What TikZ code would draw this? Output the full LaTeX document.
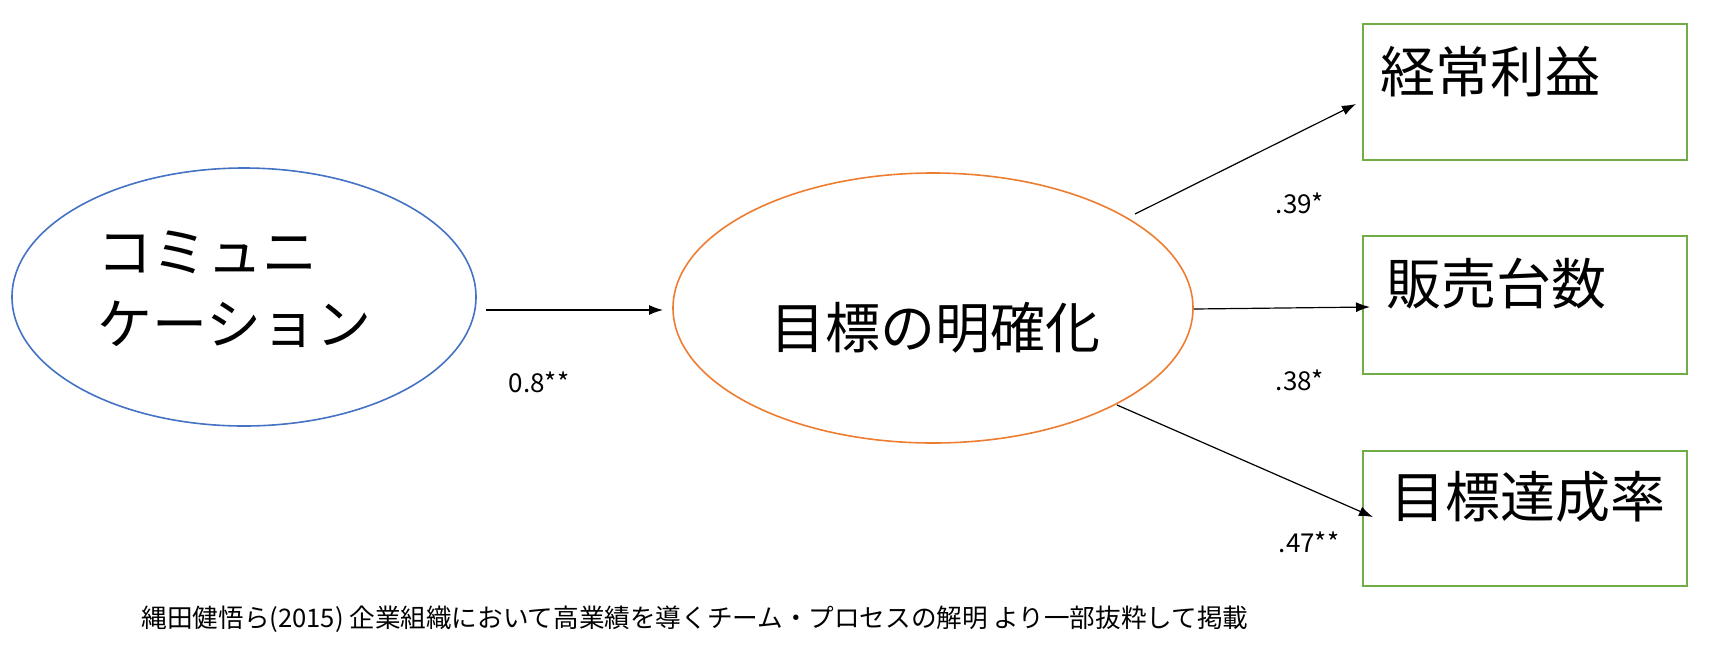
\documentclass[tikz,border=0pt]{standalone}
\usepackage{fontspec}
\newfontfamily\jp{Noto Sans CJK JP}[Scale=1]
\usetikzlibrary{arrows.meta}
\definecolor{cblue}{RGB}{68,114,196}
\definecolor{corange}{RGB}{237,125,49}
\definecolor{cgreen}{RGB}{112,173,71}
\begin{document}
\begin{tikzpicture}[x=0.5pt,y=-0.5pt,
  big/.style={font=\jp\fontsize{27.5}{36}\selectfont,inner sep=0},
  lab/.style={font=\jp\fontsize{13}{15}\selectfont,inner sep=0},
  arr/.style={-{Latex[length=7pt,width=5pt]},line width=0.6pt},
  gbox/.style={draw=cgreen,line width=1pt}]
\useasboundingbox (0,0) rectangle (1714,644);
\draw[cblue,line width=0.8pt] (244,297) ellipse [x radius=232,y radius=129];
\draw[corange,line width=0.8pt] (933,308) ellipse [x radius=260,y radius=135];
\node[gbox,minimum width=162pt,minimum height=68pt,inner sep=0] (b1) at (1525,92) {};
\node[gbox,minimum width=162pt,minimum height=69pt,inner sep=0] (b2) at (1525,305) {};
\node[gbox,minimum width=162pt,minimum height=67.5pt,inner sep=0] (b3) at (1525,518.5) {};
\node[big,anchor=west] (t1) at (1380,72) {経常利益};
\node[big,anchor=west] (t2) at (1386,284) {販売台数};
\node[big,anchor=west] (t3) at (1390,497) {目標達成率};
\node[big,anchor=west,align=left] (e1) at (97,289) {コミュニ\\ケーション};
\node[big] (e2) at (935,328) {目標の明確化};
\coordinate (a0) at (486,310); \coordinate (a1) at (663,310);
\coordinate (p1) at (1135,214); \coordinate (q1) at (1356,104);
\coordinate (p2) at (1194,309); \coordinate (q2) at (1370,307);
\coordinate (p3) at (1117,405); \coordinate (q3) at (1373,517);
\draw[arr] (a0) -- (a1);
\draw[arr] (p1) -- (q1);
\draw[arr] (p2) -- (q2);
\draw[arr] (p3) -- (q3);
\node[lab] (l0) at (539,382) {0.8**};
\node[lab] (l1) at (1300,203) {.39*};
\node[lab] (l2) at (1300,380) {.38*};
\node[lab] (l3) at (1309,542) {.47**};
\node[font=\jp\fontsize{12.8}{15}\selectfont,inner sep=0] (cap) at (695,619) {縄田健悟ら(2015) 企業組織において高業績を導くチーム・プロセスの解明 より一部抜粋して掲載};
\end{tikzpicture}
\end{document}
